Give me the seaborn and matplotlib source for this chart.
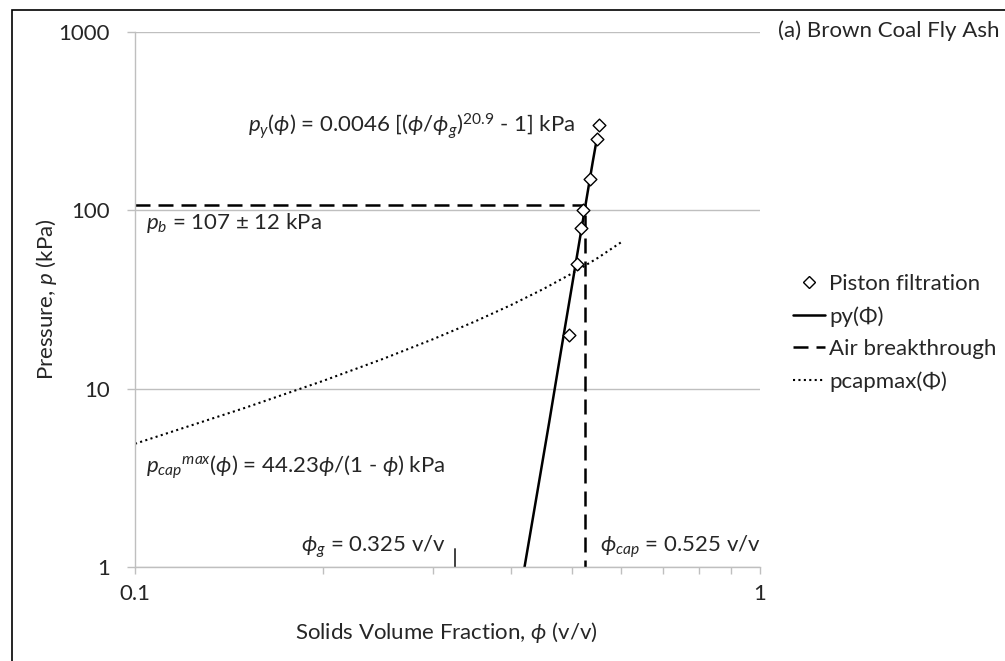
import matplotlib
matplotlib.use("Agg")
import matplotlib.pyplot as plt
import seaborn as sns
from matplotlib.lines import Line2D
from matplotlib.patches import Rectangle

# piston filtration data (solids volume fraction, pressure kPa)
phi_piston = [0.495, 0.510, 0.517, 0.521, 0.535, 0.5485, 0.5525]
p_piston = [20, 50, 80, 100, 150, 250, 300]

# py(phi) fit line
phi_fit = [0.420, 0.440, 0.460, 0.480, 0.500, 0.520, 0.540, 0.548]
p_fit = [1.0, 2.6, 6.5, 16.0, 37.4, 85.0, 187.0, 250.0]

# air breakthrough path
phi_air = [0.1, 0.525, 0.525]
p_air = [107, 107, 1]

# pcapmax(phi) curve
phi_cap_curve = [0.10, 0.15, 0.20, 0.25, 0.30, 0.35, 0.40, 0.45, 0.50, 0.55, 0.60]
p_cap_curve = [4.91, 7.81, 11.06, 14.74, 18.96, 23.82, 29.49, 36.19, 44.23, 54.06, 66.35]

phi_g = 0.325
legend_labels = ["Piston filtration", "py(\u03a6)", "Air breakthrough", "pcapmax(\u03a6)"]

sns.set_theme(style="white")
plt.rcParams["font.family"] = ["Lato", "DejaVu Sans"]
plt.rcParams["mathtext.fontset"] = "custom"
plt.rcParams["mathtext.rm"] = "Lato"
plt.rcParams["mathtext.it"] = "Lato:italic"
plt.rcParams["mathtext.bf"] = "Lato:bold"
plt.rcParams["mathtext.fallback"] = "stixsans"

FS = 16
grey = "#bfbfbf"

fig = plt.figure(figsize=(10.05, 6.61), dpi=100)
ax = fig.add_axes([135 / 1005, 1 - 567 / 661, 625 / 1005, 535 / 661])

sns.lineplot(x=phi_fit, y=p_fit, ax=ax, color="black", lw=1.8, sort=False,
             estimator=None, legend=False)
sns.lineplot(x=phi_air, y=p_air, ax=ax, color="black", lw=1.8, sort=False,
             estimator=None, legend=False, linestyle=(0, (6, 3.2)))
sns.lineplot(x=phi_cap_curve, y=p_cap_curve, ax=ax, color="black", lw=1.5,
             sort=False, estimator=None, legend=False, linestyle=(0, (1, 1.6)))
sns.scatterplot(x=phi_piston, y=p_piston, ax=ax, marker="D", s=42,
                facecolor="white", edgecolor="black", linewidth=1.0, zorder=5,
                legend=False)
ax.plot([phi_g, phi_g], [1, 1.26], color="#404040", lw=1.4)

ax.set_xscale("log")
ax.set_yscale("log")
ax.set_xlim(0.1, 1)
ax.set_ylim(1, 1000)
ax.set_xticks([0.1, 1])
ax.set_xticklabels(["0.1", "1"])
ax.set_yticks([1, 10, 100, 1000])
ax.set_yticklabels(["1", "10", "100", "1000"])
ax.yaxis.set_minor_locator(matplotlib.ticker.NullLocator())
ax.xaxis.set_minor_locator(matplotlib.ticker.LogLocator(base=10, subs=range(2, 10)))
ax.xaxis.set_minor_formatter(matplotlib.ticker.NullFormatter())
ax.tick_params(axis="x", which="both", direction="out", length=5, width=1,
               color=grey, labelsize=FS, pad=7, bottom=True)
ax.tick_params(axis="y", which="major", direction="out", length=6, width=1,
               color=grey, labelsize=FS, pad=12, left=True)
ax.grid(axis="y", which="major", color=grey, lw=1)
ax.grid(axis="x", visible=False)
for s in ["top", "right"]:
    ax.spines[s].set_visible(False)
for s in ["left", "bottom"]:
    ax.spines[s].set_color(grey)
    ax.spines[s].set_linewidth(1)
ax.set_facecolor("white")

ax.set_xlabel(r"Solids Volume Fraction, $\phi$ (v/v)", fontsize=FS)
ax.xaxis.set_label_coords(0.4976, -0.099)
ax.set_ylabel(r"Pressure, $p$ (kPa)", fontsize=FS)
ax.yaxis.set_label_coords(-0.122, 0.5)

ax.text(0.1517, 297, r"$p_y(\phi)$ = 0.0046 [($\phi/\phi_g)^{20.9}$ - 1] kPa",
        fontsize=FS, ha="left", va="center")
ax.text(0.1041, 85, r"$p_b$ = 107 $\pm$ 12 kPa", fontsize=FS, ha="left", va="center")
ax.text(0.1041, 3.64, r"$p_{cap}{}^{max}(\phi)$ = 44.23$\phi$/(1 - $\phi$) kPa",
        fontsize=FS, ha="left", va="center")
ax.text(0.315, 1.30, r"$\phi_g$ = 0.325 v/v", fontsize=FS, ha="right", va="center")
ax.text(0.5546, 1.30, r"$\phi_{cap}$ = 0.525 v/v", fontsize=FS, ha="left", va="center")

fig.text(778 / 1005, 1 - 31 / 661, "(a) Brown Coal Fly Ash", fontsize=FS,
         ha="left", va="center")

handles = [
    Line2D([], [], marker="D", ms=6, mfc="white", mec="black", ls="none"),
    Line2D([], [], color="black", lw=1.8),
    Line2D([], [], color="black", lw=1.8, ls=(0, (6, 3.2))),
    Line2D([], [], color="black", lw=1.5, ls=(0, (1, 1.6))),
]
fig.legend(handles, legend_labels, loc="center left",
           bbox_to_anchor=(793 / 1005, 1 - 333 / 661), frameon=False,
           fontsize=FS, handlelength=1.44, handletextpad=0.2,
           labelspacing=0.55, borderpad=0, borderaxespad=0)

fig.patches.append(Rectangle((11.5 / 1005, -0.1), 1.2, 1.1 - 10 / 661,
                             transform=fig.transFigure, fill=False,
                             ec="black", lw=1.2))

fig.savefig("out.png", dpi=100, facecolor="white")
